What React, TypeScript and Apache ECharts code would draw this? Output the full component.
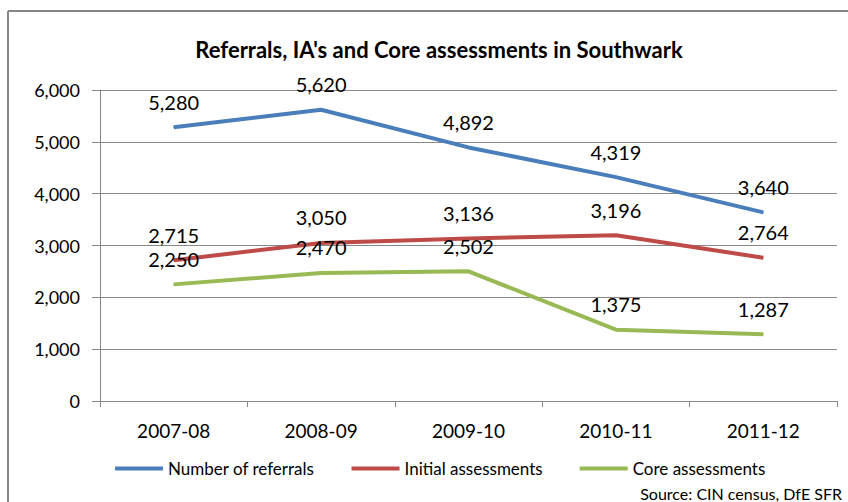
import React, { useEffect, useRef } from "react";
import * as echarts from "echarts";

const categories = ["2007-08", "2008-09", "2009-10", "2010-11", "2011-12"];
const referrals = [5280, 5620, 4892, 4319, 3640];
const initialAssessments = [2715, 3050, 3136, 3196, 2764];
const coreAssessments = [2250, 2470, 2502, 1375, 1287];
const yTicks = { min: 0, max: 6000, interval: 1000 };

const FONT = "Lato, 'Open Sans', sans-serif";

const fmt = (v: number) => v.toLocaleString("en-US");

export default function App() {
  const ref = useRef<HTMLDivElement>(null);
  useEffect(() => {
    if (!ref.current) return;
    const chart = echarts.init(ref.current, undefined, { renderer: "svg" });
    const mk = (name: string, data: number[], color: string) => ({
      name,
      type: "line",
      data,
      showSymbol: true,
      symbol: "circle",
      symbolSize: 1,
      lineStyle: { color, width: 4 },
      itemStyle: { color },
      label: {
        show: true,
        position: "top",
        distance: 15,
        fontFamily: FONT,
        fontSize: 20,
        color: "#000",
        formatter: (p: any) => fmt(p.value),
      },
    });
    chart.setOption({
      animation: false,
      backgroundColor: "#fff",
      title: {
        text: "Referrals, IA's and Core assessments in Southwark",
        left: 434,
        textAlign: "center",
        top: 33,
        textStyle: { fontFamily: FONT, fontSize: 22, fontWeight: "bold", color: "#000" },
      },
      graphic: [
        { type: "line", shape: { x1: 8, y1: 11, x2: 848, y2: 11 }, style: { stroke: "#878787", lineWidth: 2 } },
        { type: "line", shape: { x1: 8, y1: 11, x2: 8, y2: 502 }, style: { stroke: "#878787", lineWidth: 2 } },
        {
          type: "text",
          right: 6,
          top: 485,
          style: { text: "Source: CIN census, DfE SFR", fontFamily: FONT, fontSize: 16, fill: "#000" },
        },
      ],
      legend: {
        left: 110,
        top: 455,
        itemWidth: 48,
        itemHeight: 4,
        itemGap: 37,
        icon: "rect",
        textStyle: { fontFamily: FONT, fontSize: 17, color: "#000" },
        data: ["Number of referrals", "Initial assessments", "Core assessments"],
      },
      grid: { left: 100, right: 11, top: 90, bottom: 101, containLabel: false },
      xAxis: {
        type: "category",
        data: categories,
        boundaryGap: true,
        axisLine: { lineStyle: { color: "#888", width: 1 } },
        axisTick: { show: true, length: 6, lineStyle: { color: "#888" } },
        axisLabel: { fontFamily: FONT, fontSize: 19, color: "#000", margin: 20 },
        splitLine: { show: false },
      },
      yAxis: {
        type: "value",
        min: yTicks.min,
        max: yTicks.max,
        interval: yTicks.interval,
        axisLine: { show: true, lineStyle: { color: "#888", width: 1 } },
        axisTick: { show: true, length: 8, lineStyle: { color: "#888" } },
        axisLabel: { fontFamily: FONT, fontSize: 18, color: "#000", margin: 20, formatter: (v: number) => fmt(v) },
        splitLine: { show: true, lineStyle: { color: "#888", width: 1 } },
      },
      series: [
        mk("Number of referrals", referrals, "#4A7EBB"),
        mk("Initial assessments", initialAssessments, "#BE4B48"),
        mk("Core assessments", coreAssessments, "#98B954"),
      ],
    });
    return () => chart.dispose();
  }, []);
  return <div ref={ref} style={{ width: 848, height: 502, position: "absolute", left: 0, top: 0 }} />;
}
